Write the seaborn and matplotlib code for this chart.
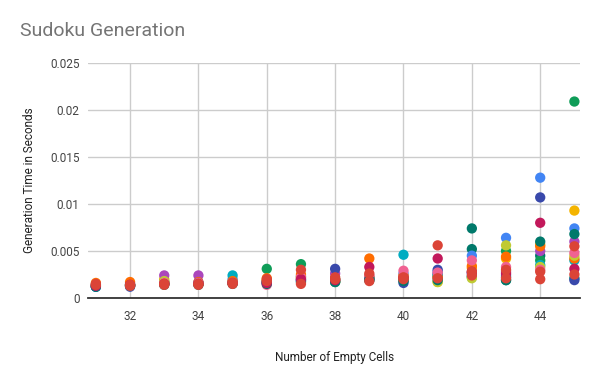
import matplotlib
matplotlib.use("Agg")
import matplotlib.pyplot as plt
import seaborn as sns
import pandas as pd

empty_cells = list(range(31, 46))

series_names = ["darkteal2", "blue", "yellow", "green", "purple", "teal", "orange",
                "olive", "indigo", "pink", "darkteal", "darkpink", "red2", "red"]
series_colors = ["#00796B", "#4285F4", "#F4B400", "#0F9D58", "#AB47BC", "#00ACC1", "#FF6D00",
                 "#C0CA33", "#3949AB", "#F06292", "#00796B", "#C2185B", "#DB4437", "#DB4437"]

darkteal2 = [0.0014, 0.0014, 0.0016, 0.0015, 0.0017, 0.0018, 0.0023, 0.0020, 0.0021, 0.0019, 0.0022, 0.0052, 0.0019, 0.0045, 0.0021]
blue      = [0.0012, 0.0013, 0.0016, 0.0016, 0.0020, 0.0016, 0.0020, 0.0019, 0.0021, 0.0026, 0.0028, 0.0045, 0.0064, 0.0128, 0.0074]
yellow    = [0.0013, 0.0014, 0.0020, 0.0016, 0.0017, 0.0019, 0.0022, 0.0017, 0.0022, 0.0021, 0.0017, 0.0032, 0.0042, 0.0057, 0.0093]
green     = [0.0013, 0.0014, 0.0017, 0.0015, 0.0016, 0.0031, 0.0036, 0.0018, 0.0020, 0.0022, 0.0024, 0.0022, 0.0050, 0.0040, 0.0209]
purple    = [0.0014, 0.0015, 0.0024, 0.0024, 0.0017, 0.0017, 0.0019, 0.0026, 0.0023, 0.0023, 0.0026, 0.0026, 0.0028, 0.0050, 0.0060]
teal      = [0.0012, 0.0013, 0.0015, 0.0016, 0.0024, 0.0016, 0.0018, 0.0017, 0.0019, 0.0046, 0.0025, 0.0023, 0.0024, 0.0035, 0.0040]
orange    = [0.0016, 0.0017, 0.0017, 0.0017, 0.0018, 0.0021, 0.0025, 0.0020, 0.0042, 0.0024, 0.0022, 0.0034, 0.0044, 0.0055, 0.0042]
olive     = [0.0013, 0.0013, 0.0018, 0.0015, 0.0016, 0.0017, 0.0021, 0.0018, 0.0022, 0.0019, 0.0017, 0.0021, 0.0056, 0.0033, 0.0045]
indigo    = [0.0012, 0.0012, 0.0015, 0.0016, 0.0016, 0.0017, 0.0019, 0.0031, 0.0021, 0.0016, 0.0030, 0.0027, 0.0022, 0.0107, 0.0019]
pink      = [0.0013, 0.0013, 0.0016, 0.0016, 0.0016, 0.0014, 0.0022, 0.0018, 0.0024, 0.0029, 0.0027, 0.0040, 0.0033, 0.0030, 0.0048]
darkteal  = [0.0012, 0.0013, 0.0014, 0.0014, 0.0015, 0.0015, 0.0017, 0.0017, 0.0019, 0.0018, 0.0019, 0.0074, 0.0019, 0.0060, 0.0068]
darkpink  = [0.0013, 0.0014, 0.0015, 0.0015, 0.0016, 0.0016, 0.0020, 0.0019, 0.0033, 0.0021, 0.0042, 0.0028, 0.0026, 0.0080, 0.0031]
red2      = [0.0015, 0.0014, 0.0015, 0.0015, 0.0016, 0.0020, 0.0030, 0.0020, 0.0026, 0.0022, 0.0056, 0.0028, 0.0030, 0.0028, 0.0055]
red       = [0.0014, 0.0013, 0.0014, 0.0014, 0.0015, 0.0018, 0.0015, 0.0022, 0.0018, 0.0020, 0.0021, 0.0024, 0.0021, 0.0020, 0.0025]

all_series = [darkteal2, blue, yellow, green, purple, teal, orange, olive, indigo,
              pink, darkteal, darkpink, red2, red]

rows = []
for name, vals in zip(series_names, all_series):
    for x, v in zip(empty_cells, vals):
        rows.append({"cells": x, "time": v, "series": name})
df = pd.DataFrame(rows)

sns.set_theme(style="white")
plt.rcParams["font.family"] = ["Roboto", "DejaVu Sans"]

fig = plt.figure(figsize=(6, 3.71), dpi=100)
ax = fig.add_axes([0.1467, 0.1968, 0.8203, 0.6334])

palette = dict(zip(series_names, series_colors))
sns.scatterplot(data=df, x="cells", y="time", hue="series", palette=palette,
                s=55, linewidth=0, alpha=1, legend=False, ax=ax, zorder=3)

ax.set_xlim(30.77, 45.17)
ax.set_ylim(0, 0.025)
ax.set_xticks([32, 34, 36, 38, 40, 42, 44])
ax.set_yticks([0, 0.005, 0.01, 0.015, 0.02, 0.025])
ax.set_yticklabels(["0", "0.005", "0.01", "0.015", "0.02", "0.025"])
ax.grid(True, color="#cccccc", linewidth=1)
ax.set_axisbelow(True)
for sp in ["left", "right", "top"]:
    ax.spines[sp].set_visible(False)
ax.spines["bottom"].set_color("#333333")
ax.spines["bottom"].set_linewidth(1.3)
ax.spines["bottom"].set_zorder(4)
ax.tick_params(axis="both", length=0, labelsize=8.5, labelcolor="#444444")
ax.tick_params(axis="x", pad=9)
ax.tick_params(axis="y", pad=6)

ax.set_xlabel("Number of Empty Cells", fontsize=8.5, color="#222222", labelpad=20)
ax.set_ylabel("Generation Time in Seconds", fontsize=8.5, color="#222222", labelpad=10)
fig.text(20 / 600, 1 - 31 / 371, "Sudoku Generation", fontsize=14, color="#757575",
         va="center", ha="left")

fig.savefig("out.png", dpi=100)
